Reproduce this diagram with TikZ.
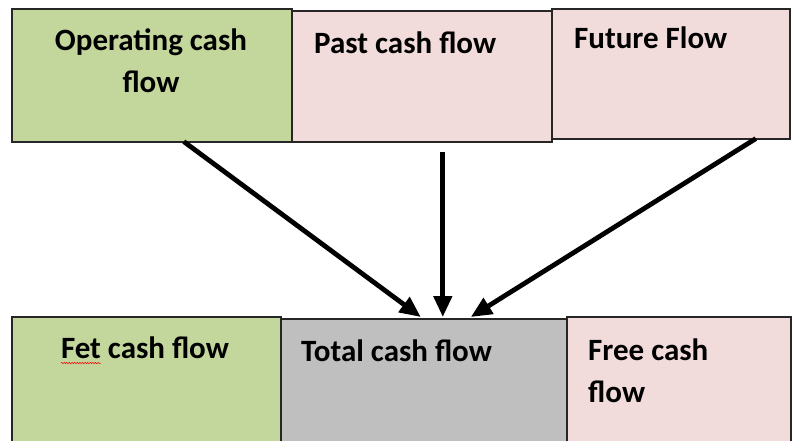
\documentclass[tikz,border=0pt]{standalone}
\usepackage{fontspec}
\setmainfont{Carlito}
\usetikzlibrary{arrows.meta,decorations.pathmorphing}
\definecolor{boxgreen}{HTML}{C3D69B}
\definecolor{boxpink}{HTML}{F2DCDB}
\definecolor{boxgray}{HTML}{BFBFBF}
\tikzset{
  cashbox/.style={draw=black!85, line width=1.6pt, inner sep=0pt, anchor=north west},
  boxtext/.style={font=\bfseries\fontsize{31}{42}\selectfont, inner sep=0pt},
  flowarrow/.style={-{Triangle[length=21pt,width=18pt]}, line width=4.8pt}
}
\begin{document}
\begin{tikzpicture}[x=1pt,y=-1pt]
  \path[use as bounding box, clip] (0,0) rectangle (792,440);
  \fill[white] (0,0) rectangle (792,440);
  % top row
  \node[cashbox, fill=boxgreen, minimum width=280pt, minimum height=133pt] (opbox) at (11,8) {};
  \node[cashbox, fill=boxpink, minimum width=260pt, minimum height=131pt] (pastbox) at (291,10) {};
  \node[cashbox, fill=boxpink, minimum width=238pt, minimum height=130pt] (futbox) at (551,8) {};
  % bottom row
  \node[cashbox, fill=boxgreen, minimum width=269pt, minimum height=130pt] (fetbox) at (11,316) {};
  \node[cashbox, fill=boxgray, minimum width=286pt, minimum height=128pt] (totbox) at (280,318) {};
  \node[cashbox, fill=boxpink, minimum width=224pt, minimum height=130pt] (freebox) at (566,316) {};
  % labels
  \node[boxtext, align=center, anchor=base] (optext) at (151,92) {Operating cash\\flow};
  \node[boxtext, anchor=base west] (pasttext) at (314,53) {Past cash flow};
  \node[boxtext, anchor=base west] (futtext) at (574,48) {Future Flow};
  \node[boxtext, anchor=base] (fettext) at (145,358) {Fet cash flow};
  \node[boxtext, anchor=base west] (tottext) at (301,361) {Total cash flow};
  \node[boxtext, align=left, anchor=base west] (freetext) at (588,402) {Free cash\\flow};
  \draw[red, line width=0.5pt, decorate, decoration={snake, amplitude=0.7pt, segment length=2.6pt}]
    ([yshift=-5pt]fettext.base west) -- ++(40,0);
  % arrows
  \draw[flowarrow] ([xshift=32pt,yshift=1pt]opbox.south) -- ([xshift=-3pt,yshift=1pt]totbox.north);
  \draw[flowarrow] ([xshift=21pt,yshift=-9pt]pastbox.south) -- ([xshift=19pt,yshift=1pt]totbox.north);
  \draw[flowarrow] ([xshift=85pt,yshift=1pt]futbox.south) -- ([xshift=47pt,yshift=1pt]totbox.north);
\end{tikzpicture}
\end{document}
